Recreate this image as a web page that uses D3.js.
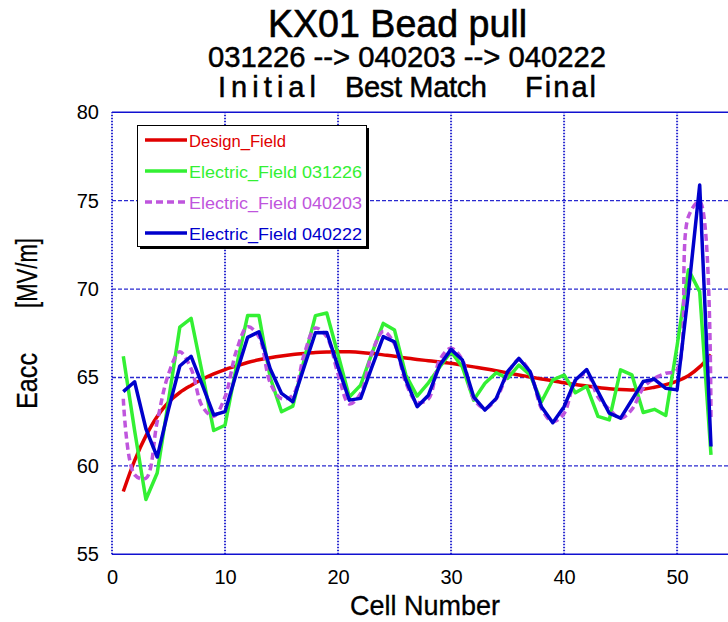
<!DOCTYPE html>
<html>
<head>
<meta charset="utf-8">
<script src="https://cdn.jsdelivr.net/npm/d3@7"></script>
<style>
  body { margin: 0; background: #fff; }
  svg { display: block; }
</style>
</head>
<body>
<div id="chart"></div>
<script>
// cell numbers along the cavity
const cellNumbers = [1, 2, 3, 4, 5, 6, 7, 8, 9, 10, 11, 12, 13, 14, 15, 16, 17, 18, 19, 20,
  21, 22, 23, 24, 25, 26, 27, 28, 29, 30, 31, 32, 33, 34, 35, 36, 37, 38, 39, 40,
  41, 42, 43, 44, 45, 46, 47, 48, 49, 50, 51, 52, 53];

// field values (MV/m)
const designField = [58.55, 60.3, 61.7, 62.8, 63.6, 64.15, 64.55, 64.9, 65.2, 65.45,
  65.65, 65.85, 66.0, 66.12, 66.22, 66.3, 66.36, 66.41, 66.44, 66.46,
  66.45, 66.42, 66.36, 66.28, 66.2, 66.1, 66.02, 65.95, 65.88, 65.8,
  65.7, 65.6, 65.5, 65.38, 65.26, 65.14, 65.03, 64.92, 64.82, 64.7,
  64.6, 64.52, 64.44, 64.37, 64.32, 64.3, 64.33, 64.45, 64.6, 64.8,
  65.1, 65.6, 66.3];

const field031226 = [66.2, 62.0, 58.1, 59.6, 63.7, 67.85, 68.35, 65.2, 62.0, 62.3,
  65.6, 68.5, 68.5, 65.0, 63.06, 63.38, 66.0, 68.5, 68.65, 66.3,
  63.9, 64.57, 66.36, 68.06, 67.68, 65.14, 63.95, 64.7, 65.6, 66.46,
  65.6, 63.72, 64.67, 65.27, 64.95, 65.7, 65.14, 63.63, 64.86, 65.14,
  64.14, 64.5, 62.8, 62.6, 65.43, 65.15, 63.02, 63.2, 62.85, 66.8,
  71.1, 69.86, 60.62];

const field040203 = [63.8, 59.5, 59.3, 62.5, 65.2, 66.45, 65.5, 63.35, 62.8, 63.9,
  66.5, 67.87, 67.3, 64.7, 63.8, 64.0, 66.3, 67.8, 67.3, 65.2,
  63.5, 64.1, 66.4, 67.6, 66.9, 64.7, 63.6, 63.8, 66.0, 66.65,
  66.0, 63.8, 63.25, 63.8, 65.2, 66.0, 65.3, 63.25, 62.5, 62.97,
  64.8, 65.2, 63.9, 63.2, 62.7, 63.2, 64.4, 64.96, 65.24, 65.43,
  74.1, 74.95, 62.6];

const field040222 = [64.2, 64.76, 62.1, 60.5, 63.2, 65.65, 66.2, 64.57, 62.88, 63.07,
  65.23, 67.27, 67.59, 65.5, 64.1, 63.63, 65.6, 67.53, 67.55, 65.6,
  63.72, 63.82, 65.6, 67.31, 67.02, 64.86, 63.35, 64.0, 65.7, 66.59,
  65.99, 63.91, 63.16, 63.82, 65.33, 66.08, 65.33, 63.35, 62.44, 63.35,
  64.86, 65.45, 64.2, 62.98, 62.7, 63.73, 64.77, 64.9, 64.39, 64.3,
  69.8, 75.89, 61.1];

const xTicks = [0, 10, 20, 30, 40, 50];
const yTicks = [55, 60, 65, 70, 75, 80];
const seriesNames = ["Design_Field", "Electric_Field 031226", "Electric_Field 040203", "Electric_Field 040222"];
const titleText = "KX01 Bead pull";
const subtitleText = "031226 --> 040203 --> 040222";
const stageLabels = ["Initial", "Best Match", "Final"];

const w = 728;
const h = 622;
const font = "'Liberation Sans', Arial, sans-serif";

const x = d3.scaleLinear().domain([0, 55]).range([112, 733.6]);
const y = d3.scaleLinear().domain([55, 80]).range([554.3, 112.3]);

const svg = d3.select("#chart")
  .append("svg")
  .attr("width", w)
  .attr("height", h)
  .style("font-family", font);

// titles (narrow, tall look of the original gothic font)
svg.append("text")
  .attr("x", 268).attr("y", 37)
  .attr("font-size", 38)
  .attr("stroke", "#000").attr("stroke-width", 0.6)
  .attr("textLength", 259).attr("lengthAdjust", "spacingAndGlyphs")
  .text(titleText);

svg.append("text")
  .attr("x", 208).attr("y", 67)
  .attr("font-size", 29)
  .attr("stroke", "#000").attr("stroke-width", 0.5)
  .attr("textLength", 398).attr("lengthAdjust", "spacingAndGlyphs")
  .text(subtitleText);

const stagePos = [[218, 98], [345, 142], [525, 71]];
svg.selectAll(".stage")
  .data(stageLabels)
  .enter()
  .append("text")
  .attr("class", "stage")
  .attr("x", (d, i) => stagePos[i][0])
  .attr("y", 97)
  .attr("font-size", 29)
  .attr("stroke", "#000").attr("stroke-width", 0.5)
  .attr("textLength", (d, i) => stagePos[i][1])
  .attr("lengthAdjust", "spacing")
  .text(d => d);

// grid
const grid = svg.append("g");
grid.selectAll(".hgrid")
  .data(yTicks.filter(v => v > 55 && v < 80))
  .enter()
  .append("line")
  .attr("x1", x(0)).attr("x2", w)
  .attr("y1", d => y(d)).attr("y2", d => y(d))
  .attr("stroke", "#2a2ad0")
  .attr("stroke-width", 1.3)
  .attr("stroke-dasharray", "4 2");

grid.selectAll(".vgrid")
  .data(xTicks)
  .enter()
  .append("line")
  .attr("x1", d => x(d)).attr("x2", d => x(d))
  .attr("y1", y(55)).attr("y2", y(80))
  .attr("stroke", "#2a2ad0")
  .attr("stroke-width", 2)
  .attr("stroke-dasharray", "1.5 1.5");

// frame top and bottom
[55, 80].forEach(v => {
  svg.append("line")
    .attr("x1", x(0)).attr("x2", w)
    .attr("y1", y(v)).attr("y2", y(v))
    .attr("stroke", "#1010d0")
    .attr("stroke-width", 1.5);
});

// axes labels
const xAxis = d3.axisBottom(x).tickValues(xTicks).tickSize(0).tickPadding(16);
svg.append("g")
  .attr("transform", "translate(0," + y(55) + ")")
  .call(xAxis)
  .call(g => g.select(".domain").remove())
  .selectAll("text")
  .attr("font-size", 20)
  .attr("font-family", font)
  .attr("fill", "#000");

const yAxis = d3.axisLeft(y).tickValues(yTicks).tickSize(0).tickPadding(13);
svg.append("g")
  .attr("transform", "translate(" + x(0) + ",0)")
  .call(yAxis)
  .call(g => g.select(".domain").remove())
  .selectAll("text")
  .attr("font-size", 20)
  .attr("font-family", font)
  .attr("fill", "#000");

svg.append("text")
  .attr("x", 350).attr("y", 615)
  .attr("font-size", 28)
  .attr("stroke", "#000").attr("stroke-width", 0.3)
  .attr("textLength", 150).attr("lengthAdjust", "spacingAndGlyphs")
  .text("Cell Number");

svg.append("text")
  .attr("transform", "translate(37,409) rotate(-90)")
  .attr("font-size", 29)
  .attr("stroke", "#000").attr("stroke-width", 0.3)
  .attr("textLength", 56).attr("lengthAdjust", "spacingAndGlyphs")
  .text("Eacc");

svg.append("text")
  .attr("transform", "translate(37,308) rotate(-90)")
  .attr("font-size", 29)
  .attr("stroke", "#000").attr("stroke-width", 0.3)
  .attr("textLength", 70).attr("lengthAdjust", "spacingAndGlyphs")
  .text("[MV/m]");

// series
const series = [
  { values: designField, color: "#e00000", dash: null, curve: d3.curveCatmullRom },
  { values: field031226, color: "#33f033", dash: null, curve: d3.curveLinear },
  { values: field040203, color: "#bf55dd", dash: "7 4", curve: d3.curveCatmullRom },
  { values: field040222, color: "#0000cc", dash: null, curve: d3.curveLinear }
];

series.forEach(s => {
  const line = d3.line()
    .x((d, i) => x(cellNumbers[i]))
    .y(d => y(d))
    .curve(s.curve);
  svg.append("path")
    .datum(s.values)
    .attr("d", line)
    .attr("fill", "none")
    .attr("stroke", s.color)
    .attr("stroke-width", 3.5)
    .attr("stroke-linejoin", "round")
    .attr("stroke-dasharray", s.dash);
});

// legend
const legend = svg.append("g");
legend.append("rect")
  .attr("x", 140).attr("y", 128)
  .attr("width", 229).attr("height", 121)
  .attr("fill", "#000");
legend.append("rect")
  .attr("x", 137.5).attr("y", 125.5)
  .attr("width", 229).attr("height", 121)
  .attr("fill", "#fff")
  .attr("stroke", "#000")
  .attr("stroke-width", 1);

const rowY = [140, 171, 202, 233];
const textLen = [97, 173, 173, 173];
series.forEach((s, i) => {
  legend.append("line")
    .attr("x1", 145).attr("x2", 187)
    .attr("y1", rowY[i]).attr("y2", rowY[i])
    .attr("stroke", s.color)
    .attr("stroke-width", 3.5)
    .attr("stroke-dasharray", s.dash);
  legend.append("text")
    .attr("x", 189).attr("y", rowY[i] + 6.5)
    .attr("font-size", 17)
    .attr("fill", s.color)
    .attr("textLength", textLen[i]).attr("lengthAdjust", "spacingAndGlyphs")
    .text(seriesNames[i]);
});
</script>
</body>
</html>
